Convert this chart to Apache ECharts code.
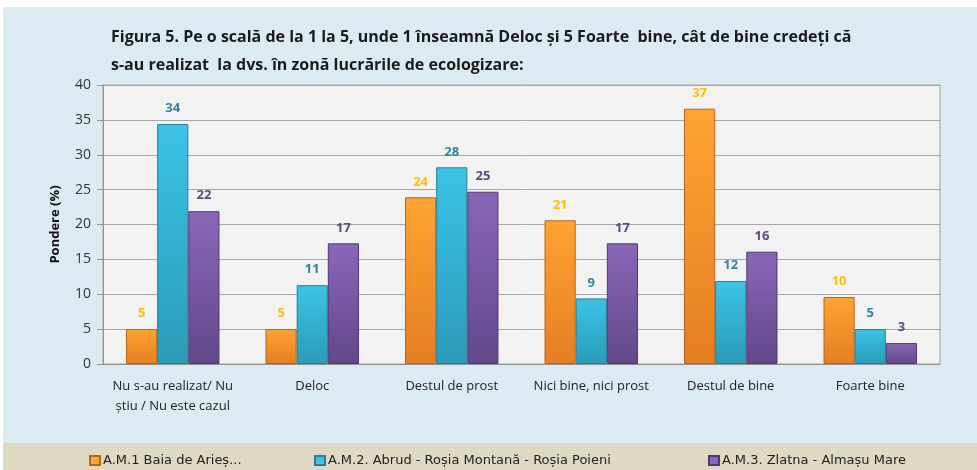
<!DOCTYPE html>
<html>
<head>
    <meta charset="utf-8">
    <script src="https://cdn.jsdelivr.net/npm/echarts@6/dist/echarts.min.js"></script>
    <title>Figura 5</title>
    <style>
        html, body { margin: 0; padding: 0; background: #fff; }
        #view { width: 977px; height: 470px; }
    </style>
</head>
<body>
    <div id="view"></div>
    <script>
        // categorii si valori (%)
        var categories = ['Nu s-au realizat/ Nu\nștiu / Nu este cazul', 'Deloc', 'Destul de prost', 'Nici bine, nici prost', 'Destul de bine', 'Foarte bine'];
        var seriesNames = ['A.M.1 Baia de Arieș...', 'A.M.2. Abrud - Roșia Montană - Roșia Poieni', 'A.M.3. Zlatna - Almașu Mare'];
        var am1 = [5.0, 5.0, 23.9, 20.6, 36.6, 9.6];
        var am2 = [34.4, 11.3, 28.2, 9.4, 11.9, 5.0];
        var am3 = [21.9, 17.3, 24.7, 17.3, 16.1, 3.0];
        var yTicks = [0, 5, 10, 15, 20, 25, 30, 35, 40];

        var fills = [
            ['#FFA333', '#E57E22', '#B8661C'],
            ['#3CC3E6', '#2B9BB8', '#22809A'],
            ['#8A66B8', '#62488A', '#4E3A70']
        ];
        var labelColors = ['#FFC000', '#31849B', '#5F497A'];
        var legendLeft = [84, 309, 703];

        function grad(c) {
            return new echarts.graphic.LinearGradient(0, 0, 0, 1, [
                { offset: 0, color: c[0] },
                { offset: 1, color: c[1] }
            ]);
        }

        function makeSeries(i, data) {
            return {
                name: seriesNames[i],
                type: 'bar',
                data: data,
                barGap: '0%',
                barCategoryGap: '33%',
                itemStyle: { color: grad(fills[i]), borderColor: fills[i][2], borderWidth: 1 },
                label: {
                    show: true,
                    position: 'top',
                    distance: 9,
                    color: labelColors[i],
                    fontWeight: 'bold',
                    fontSize: 13,
                    fontFamily: 'Open Sans',
                    formatter: function (p) { return Math.round(p.value); }
                }
            };
        }

        // cate o legenda pentru fiecare serie (coloane fixe ca in figura)
        var legends = seriesNames.map(function (n, i) {
            return {
                top: 449,
                left: legendLeft[i],
                itemWidth: 10,
                itemHeight: 9,
                itemGap: 4,
                icon: 'rect',
                textStyle: { fontFamily: 'DejaVu Sans', fontSize: 13, color: '#222', padding: [0, 0, 0, -2] },
                data: [{ name: n, itemStyle: { color: fills[i][0] } }]
            };
        });

        var view = echarts.init(document.getElementById('view'));
        var option = {
            animation: false,
            graphic: [
                { type: 'rect', z: -10, shape: { x: 3, y: 7, width: 974, height: 436 }, style: { fill: '#DCEBF1' } },
                { type: 'rect', z: -10, shape: { x: 3, y: 443, width: 974, height: 27 }, style: { fill: '#DDD9C3' } }
            ],
            title: {
                text: 'Figura 5. Pe o scală de la 1 la 5, unde 1 înseamnă Deloc și 5 Foarte  bine, cât de bine credeți că\ns-au realizat  la dvs. în zonă lucrările de ecologizare:',
                left: 106,
                top: 18,
                textStyle: { fontFamily: 'Open Sans', fontWeight: 'bold', fontSize: 16, color: '#1a1a1a', lineHeight: 28 }
            },
            legend: legends,
            grid: {
                left: 103, right: 37, top: 85, bottom: 106,
                show: true,
                backgroundColor: '#F2F2F2',
                borderColor: '#A0A0A0',
                borderWidth: 1
            },
            xAxis: {
                type: 'category',
                data: categories,
                axisLine: { lineStyle: { color: '#909090' } },
                axisTick: { show: false },
                axisLabel: { color: '#222', fontFamily: 'Open Sans', fontSize: 13, margin: 12, lineHeight: 20, interval: 0 }
            },
            yAxis: {
                type: 'value',
                min: 0,
                max: 40,
                interval: 5,
                name: 'Pondere (%)',
                nameLocation: 'middle',
                nameGap: 41,
                nameTextStyle: { fontFamily: 'Open Sans', fontWeight: 'bold', fontSize: 13, color: '#111' },
                axisLine: { show: true, lineStyle: { color: '#909090' } },
                axisTick: { show: true, length: 6, lineStyle: { color: '#909090' } },
                axisLabel: {
                    color: '#333', fontFamily: 'Open Sans', fontSize: 14, margin: 12,
                    formatter: function (v) { return yTicks.indexOf(v) >= 0 ? v : ''; }
                },
                splitLine: { lineStyle: { color: '#A6A6A6' } }
            },
            series: [makeSeries(0, am1), makeSeries(1, am2), makeSeries(2, am3)]
        };
        view.setOption(option);
    </script>
</body>
</html>
